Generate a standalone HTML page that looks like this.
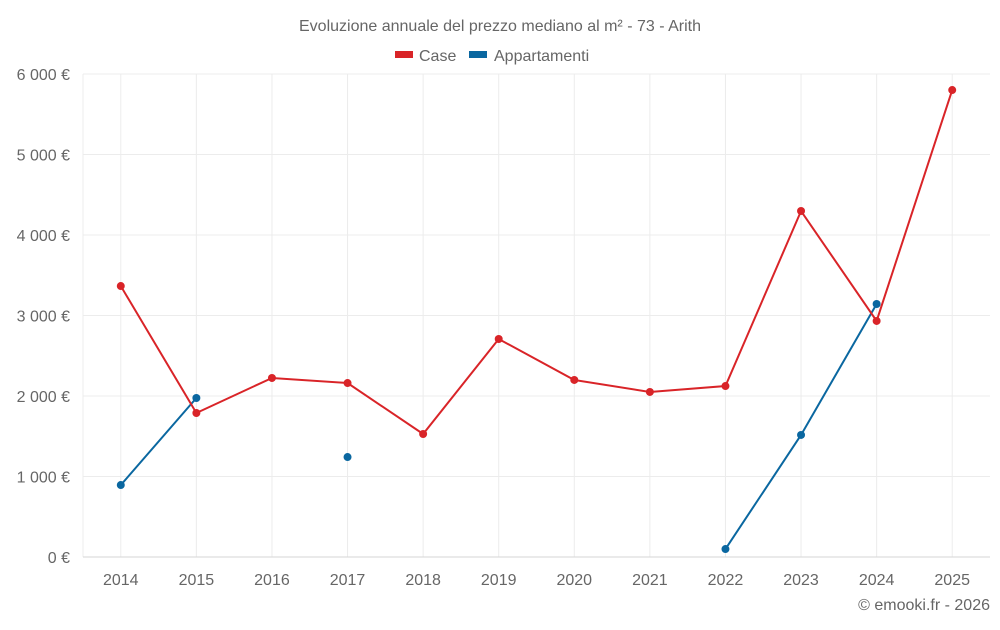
<!DOCTYPE html>
<html><head><meta charset="utf-8"><style>
body{margin:0;background:#fff;font-family:"Liberation Sans",sans-serif;}
svg text{font-family:"Liberation Sans",sans-serif;fill:#666;}
</style></head><body>
<svg id="chart" width="1000" height="625">
<text x="500" y="31" text-anchor="middle" font-size="16">Evoluzione annuale del prezzo mediano al m² - 73 - Arith</text>
<g>
<g><rect x="395" y="51" width="18" height="7" fill="#d92428"/><text x="419" y="61" font-size="16">Case</text></g>
<g><rect x="469" y="51" width="18" height="7" fill="#0a67a0"/><text x="494" y="61" font-size="16">Appartamenti</text></g>
</g>
<g id="grid"></g><g id="axes"></g><g id="series"></g>
<text x="990" y="610" text-anchor="end" font-size="16">© emooki.fr - 2026</text>
</svg>
<script>
const years=[2014,2015,2016,2017,2018,2019,2020,2021,2022,2023,2024,2025];
const caseValues=[3366,1789,2224,2161,1528,2708,2199,2050,2124,4298,2932,5801];
const apptValues=[894,1975,null,1242,null,null,null,null,99,1516,3143,null];
const yTicks=[0,1000,2000,3000,4000,5000,6000];
const yTickLabels=["0 €","1 000 €","2 000 €","3 000 €","4 000 €","5 000 €","6 000 €"];
const L=83,R=990,T=74,B=557,yMax=6000;
const step=(R-L)/years.length;
const x=i=>L+step*(i+0.5);
const y=v=>B-(v/yMax)*(B-T);
const NS="http://www.w3.org/2000/svg";
function mk(tag,attrs,parent){const e=document.createElementNS(NS,tag);for(const k in attrs)e.setAttribute(k,attrs[k]);document.getElementById(parent).appendChild(e);return e;}
const lb=mk('line',{x1:L,x2:L,y1:T,y2:B,stroke:'#ececec'},'grid');


years.forEach((yr,i)=>{
 const g=mk('line',{x1:x(i),x2:x(i),y1:T,y2:B,stroke:'#ececec'},'grid');
 
 
 const tx=mk('text',{x:x(i),y:585,'text-anchor':'middle','font-size':16},'axes');tx.textContent=yr;
 
 
});
yTicks.forEach((t,i)=>{
 const g=mk('line',{x1:L,x2:R,y1:y(t),y2:y(t),stroke:i==0?'#d6d6d6':'#ececec'},'grid');
 
 
 const tx=mk('text',{x:70,y:y(t)+6,'text-anchor':'end','font-size':16},'axes');tx.textContent=yTickLabels[i];
 
 
});
function drawSeries(vals,color,name){
 let d='',pen=false;
 vals.forEach((v,i)=>{if(v==null){pen=false;return;}d+=(pen?'L':'M')+x(i)+' '+y(v)+' ';pen=true;});
 const p=mk('path',{d:d,fill:'none',stroke:color,'stroke-width':2},'series');
 
 
 vals.forEach((v,i)=>{if(v==null)return;
  const c=mk('circle',{cx:x(i),cy:y(v),r:4,fill:color},'series');
  
  
 });
}
drawSeries(apptValues,'#0a67a0','appartamenti');
drawSeries(caseValues,'#d92428','case');
</script>
</body></html>
